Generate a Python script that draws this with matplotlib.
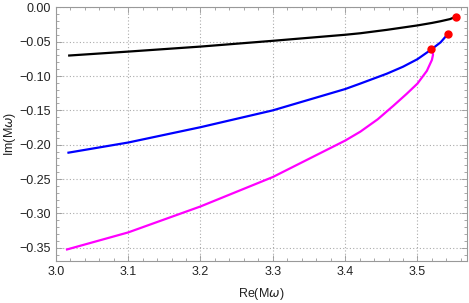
import matplotlib
matplotlib.use("Agg")
import matplotlib.pyplot as plt
from matplotlib.ticker import MultipleLocator

# --- DATA ---
black_re = [3.017, 3.100, 3.200, 3.300, 3.400, 3.421, 3.458, 3.500, 3.520, 3.532, 3.545, 3.553]
black_im = [-0.0703, -0.0645, -0.0572, -0.0488, -0.0400, -0.0378, -0.0328, -0.0264, -0.0228, -0.0203, -0.0172, -0.0137]

blue_re = [3.016, 3.100, 3.200, 3.300, 3.400, 3.421, 3.458, 3.480, 3.500, 3.519, 3.532, 3.5417]
blue_im = [-0.2118, -0.1968, -0.1745, -0.1500, -0.1190, -0.1110, -0.0965, -0.0865, -0.0755, -0.0615, -0.0510, -0.0393]

magenta_re = [3.014, 3.100, 3.200, 3.300, 3.400, 3.421, 3.445, 3.467, 3.485, 3.500, 3.513, 3.520, 3.5215, 3.5205, 3.519]
magenta_im = [-0.3528, -0.3276, -0.2898, -0.2470, -0.1940, -0.1810, -0.1630, -0.1430, -0.1260, -0.1110, -0.0925, -0.0765, -0.0690, -0.0640, -0.0610]

end_re = [3.553, 3.5417, 3.519]
end_im = [-0.0137, -0.0393, -0.0610]

plt.rcParams['font.family'] = ['Liberation Sans', 'DejaVu Sans']
plt.rcParams['mathtext.fontset'] = 'dejavusans'

fig = plt.figure(figsize=(4.69, 3.03), dpi=100)
ax = fig.add_axes([0.119, 0.139, 0.876, 0.837])

ax.plot(black_re, black_im, color='black', lw=1.6, solid_capstyle='butt')
ax.plot(blue_re, blue_im, color='#0000ff', lw=1.6, solid_capstyle='butt')
ax.plot(magenta_re, magenta_im, color='#ff00ff', lw=1.6, solid_capstyle='butt')
ax.plot(end_re, end_im, 'o', color='#ff0000', ms=5, zorder=5)

ax.set_xlim(3.0, 3.568)
ax.set_ylim(-0.369, 0.0)

ax.xaxis.set_major_locator(MultipleLocator(0.1))
ax.xaxis.set_minor_locator(MultipleLocator(0.02))
ax.yaxis.set_major_locator(MultipleLocator(0.05))
ax.yaxis.set_minor_locator(MultipleLocator(0.01))
ax.xaxis.set_major_formatter(lambda v, p: f"{v:.1f}")
ax.yaxis.set_major_formatter(lambda v, p: f"{v:.2f}".replace('-', '\u2212') if abs(v) > 1e-9 else "0.00")

ax.grid(True, which='major', color='#aaaaaa', linestyle=(0, (1, 2)), lw=0.8)
for s in ax.spines.values():
    s.set_color('#999999')
    s.set_linewidth(0.8)
ax.tick_params(which='both', direction='in', top=True, right=True, color='#999999',
               labelsize=9, labelcolor='#222222', width=0.6)
ax.tick_params(which='major', length=4)
ax.tick_params(which='minor', length=2)

ax.set_xlabel(r"Re(M$\omega$)", fontsize=9, color='#222222', labelpad=6)
ax.set_ylabel(r"Im(M$\omega$)", fontsize=9, color='#222222', labelpad=1)

fig.savefig("out.png", dpi=100)
